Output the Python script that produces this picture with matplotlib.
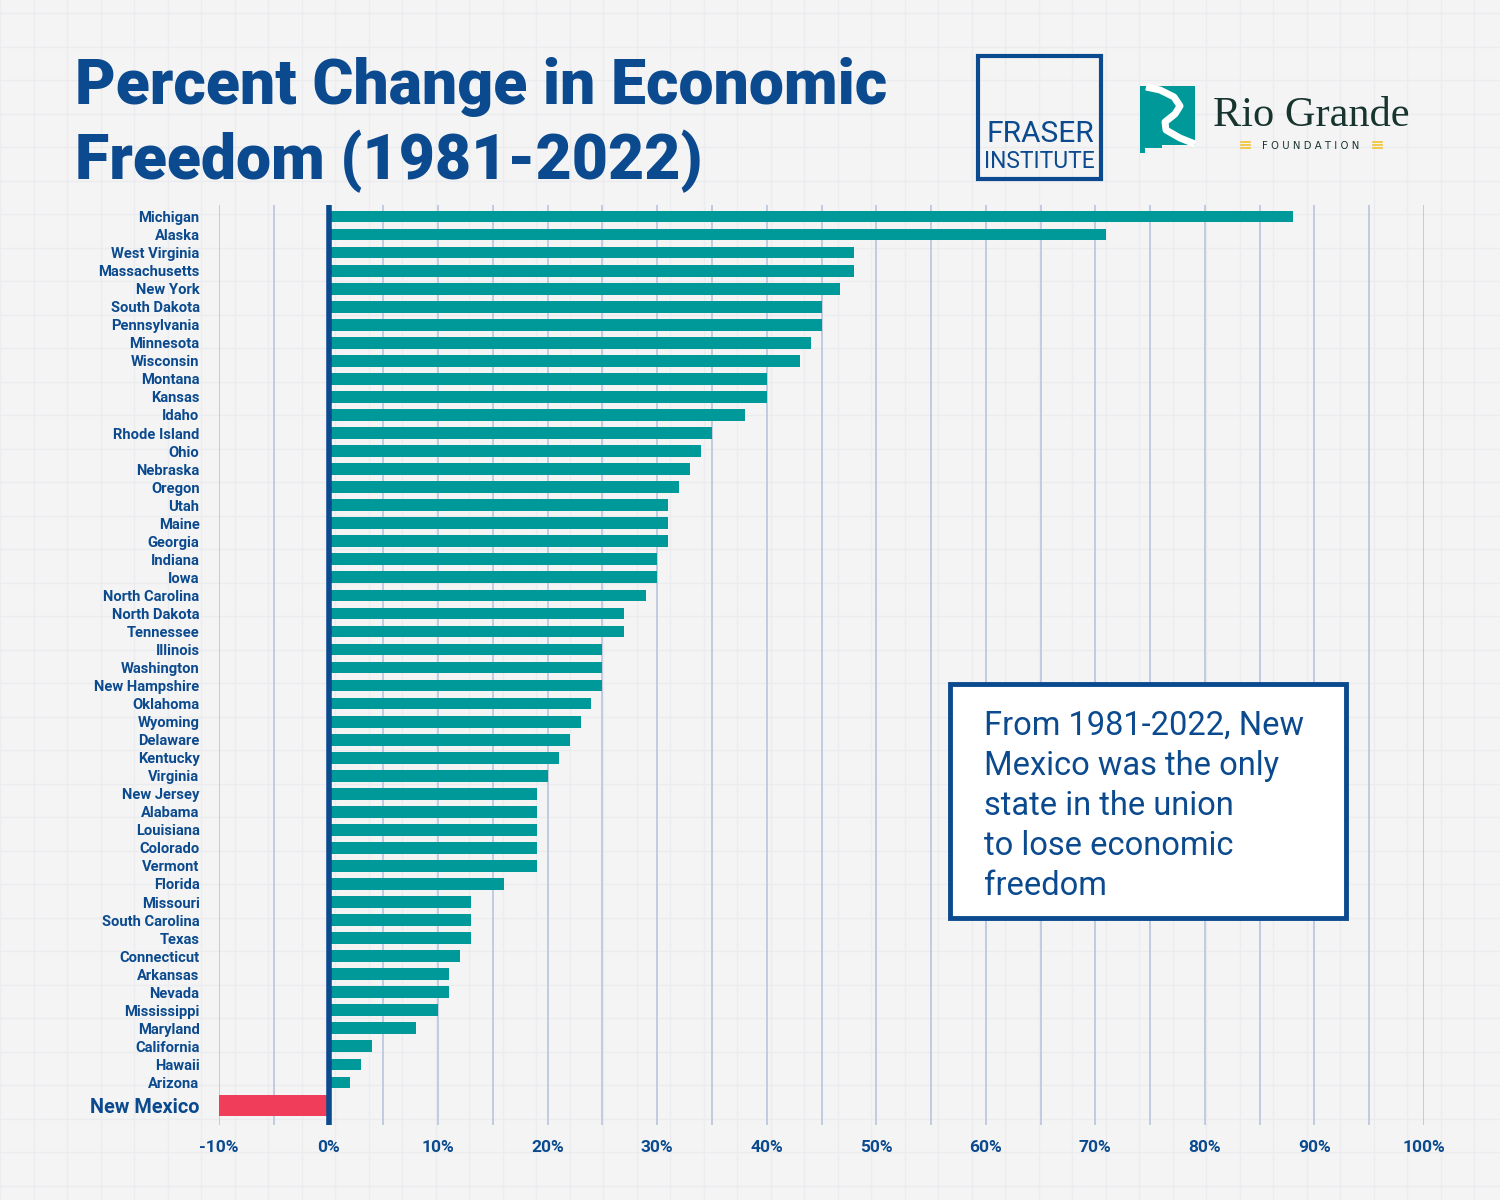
import matplotlib
matplotlib.use("Agg")
import matplotlib.pyplot as plt
from matplotlib.patches import Rectangle, Polygon
import numpy as np

states = ["Michigan", "Alaska", "West Virginia", "Massachusetts", "New York", "South Dakota",
          "Pennsylvania", "Minnesota", "Wisconsin", "Montana", "Kansas", "Idaho", "Rhode Island",
          "Ohio", "Nebraska", "Oregon", "Utah", "Maine", "Georgia", "Indiana", "Iowa",
          "North Carolina", "North Dakota", "Tennessee", "Illinois", "Washington", "New Hampshire",
          "Oklahoma", "Wyoming", "Delaware", "Kentucky", "Virginia", "New Jersey", "Alabama",
          "Louisiana", "Colorado", "Vermont", "Florida", "Missouri", "South Carolina", "Texas",
          "Connecticut", "Arkansas", "Nevada", "Mississippi", "Maryland", "California", "Hawaii",
          "Arizona"]
changes = [88, 71, 48, 48, 46.7, 45, 45, 44, 43, 40, 40, 38, 35, 34, 33, 32, 31, 31, 31, 30, 30,
           29, 27, 27, 25, 25, 25, 24, 23, 22, 21, 20, 19, 19, 19, 19, 19, 16, 13, 13, 13, 12, 11,
           11, 10, 8, 4, 3, 2]
highlight_state = "New Mexico"
highlight_change = -10
xticks = [-10, 0, 10, 20, 30, 40, 50, 60, 70, 80, 90, 100]
xticklabels = [f"{v}%" for v in xticks]

title_lines = ["Percent Change in Economic", "Freedom (1981-2022)"]
note_lines = ["From 1981-2022, New", "Mexico was the only", "state in the union",
              "to lose economic", "freedom"]

BLUE = "#0b4a8e"
TEAL = "#009999"
RED = "#ef3d5a"
GRID = "#b9c4dc"
BG = "#f4f4f4"

W, H = 1500, 1200
fig = plt.figure(figsize=(15, 12), dpi=100)
fig.patch.set_facecolor(BG)

# paper grid background
bg = fig.add_axes([0, 0, 1, 1], zorder=-10)
bg.set_xlim(0, W); bg.set_ylim(H, 0); bg.axis("off")
for gx in np.arange(0, W, 33.5):
    bg.axvline(gx, color="#eaecf0", lw=1.0, zorder=0)
for gy in np.arange(13, H, 33.5):
    bg.axhline(gy, color="#eaecf0", lw=1.0, zorder=0)

# main axes: x -10..100 maps to px 219..1424 ; y top 205, bottom 1125
left, right, top, bottom = 219, 1424, 205, 1125
ax = fig.add_axes([left / W, 1 - bottom / H, (right - left) / W, (bottom - top) / H])
ax.set_facecolor("none")

n = len(states)
ypos = np.arange(n)
nm_pos = n - 1 + 1.28
ax.barh(ypos, changes, height=0.65, color=TEAL, zorder=3)
ax.barh([nm_pos], [highlight_change], height=1.12, color=RED, zorder=3)

ax.set_xlim(-10, 100)
ax.set_ylim(50.36, -0.64)

for v in np.arange(-10, 101, 5):
    ax.axvline(v, color=GRID, lw=1.2, zorder=1)
ax.axvline(0, color=BLUE, lw=4, zorder=4)

ax.set_yticks(list(ypos) + [nm_pos])
ax.set_yticklabels(states + [highlight_state], fontfamily="Roboto", fontweight="bold",
                   fontsize=10.6, color=BLUE)
ax.get_yticklabels()[-1].set_fontsize(14.3)
ax.get_yticklabels()[-1].set_fontweight("semibold")
ax.tick_params(axis="y", length=0, pad=14)
ax.set_xticks(xticks)
ax.set_xticklabels(xticklabels, fontfamily="Roboto", fontweight="semibold", fontsize=12.5, color=BLUE)
ax.tick_params(axis="x", length=0, pad=11)
for s in ax.spines.values():
    s.set_visible(False)

# overlay for title / logos / note
ov = fig.add_axes([0, 0, 1, 1], zorder=10)
ov.set_xlim(0, W); ov.set_ylim(H, 0); ov.axis("off")

ov.text(75, 104, title_lines[0], fontfamily="Roboto", fontweight="heavy", fontsize=45,
        color=BLUE, ha="left", va="baseline")
ov.text(75, 179, title_lines[1], fontfamily="Roboto", fontweight="heavy", fontsize=45,
        color=BLUE, ha="left", va="baseline")

# Fraser logo
ov.add_patch(Rectangle((978, 56), 123, 123, fill=False, ec=BLUE, lw=3))
ov.text(1040, 142, "FRASER", fontfamily="Roboto", fontsize=21.5, color=BLUE, ha="center", va="baseline")
ov.text(1039, 168, "INSTITUTE", fontfamily="Roboto", fontsize=16.5, color=BLUE, ha="center", va="baseline")

# Rio Grande logo icon (stylised New Mexico shape with river)
nm_shape = [(1140, 86), (1195, 86), (1195, 145), (1162, 145), (1162, 148), (1145, 148),
            (1145, 153), (1140, 153)]
ov.add_patch(Polygon(nm_shape, closed=True, fc=TEAL, ec="none"))
river_x = [1146, 1160, 1174, 1180, 1175, 1165, 1166, 1180, 1195]
river_y = [87, 90, 97, 106, 114, 122, 130, 138, 144]
ov.plot(river_x, river_y, color="white", lw=5, solid_capstyle="butt", solid_joinstyle="round")
ov.text(1213, 126, "Rio Grande", fontfamily="Liberation Serif", fontsize=30.5, color="#17342f",
        ha="left", va="baseline")
ov.text(1311, 149, "F O U N D A T I O N", fontfamily="DejaVu Sans", fontsize=7.3,
        color="#17342f", ha="center", va="baseline")
for yy in (141.5, 144.5, 147.5):
    ov.plot([1241, 1250], [yy, yy], color="#f2c230", lw=1.2)
    ov.plot([1373, 1382], [yy, yy], color="#f2c230", lw=1.2)

# note box
ov.add_patch(Rectangle((950, 684), 396, 234, fc="white", ec=BLUE, lw=3.5))
for i, line in enumerate(note_lines):
    ov.text(984, 735 + i * 40, line, fontfamily="Roboto", fontsize=23.5, color=BLUE,
            ha="left", va="baseline")

fig.savefig("out.png", dpi=100, facecolor=BG)
